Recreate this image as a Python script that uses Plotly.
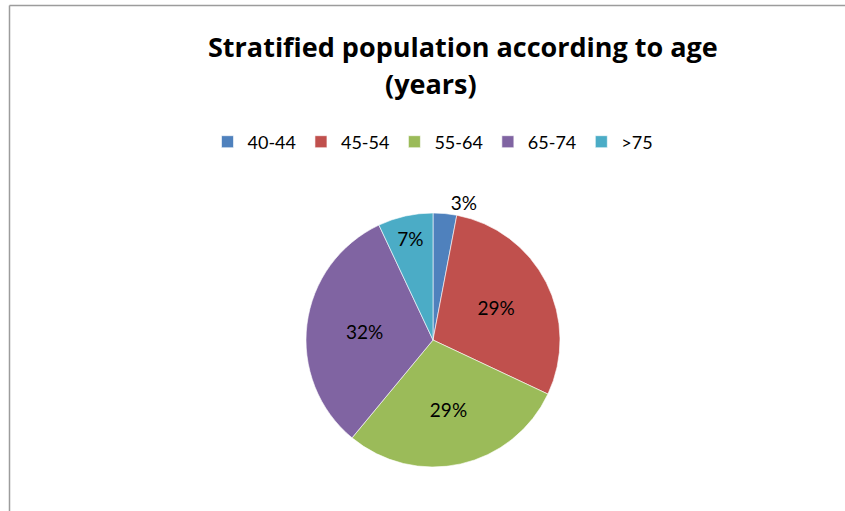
import plotly.graph_objects as go

W, H = 845, 511

categories = ["40-44", "45-54", "55-64", "65-74", ">75"]
values = [3, 29, 29, 32, 7]
colors = ["#4F81BD", "#C0504D", "#9BBB59", "#8064A2", "#4BACC6"]
text_positions = ["outside", "inside", "inside", "inside", "inside"]
title_line1 = "Stratified population according to age"
title_line2 = "(years)"

FONT = "Lato"
TITLE_FONT = "Open Sans"

cx, cy, r = 433, 340, 127

def px_x(x):
    return x / W

def px_y(y):
    return (H - y) / H

fig = go.Figure(
    go.Pie(
        labels=categories,
        values=values,
        sort=False,
        direction="clockwise",
        rotation=0,
        marker=dict(colors=colors, line=dict(color="white", width=0.6)),
        texttemplate="%{percent:.0%}",
        textposition=text_positions,
        insidetextorientation="horizontal",
        textfont=dict(family=FONT, size=19, color="black"),
        hoverinfo="label+percent",
        domain=dict(x=[px_x(cx - r), px_x(cx + r)], y=[px_y(cy + r), px_y(cy - r)]),
    )
)

fig.update_layout(
    width=W,
    height=H,
    margin=dict(l=0, r=0, t=0, b=0),
    paper_bgcolor="white",
    plot_bgcolor="white",
    font=dict(family=FONT, color="black"),
    showlegend=True,
    legend=dict(
        orientation="h",
        x=px_x(433),
        xanchor="center",
        y=px_y(142),
        yanchor="middle",
        font=dict(family=FONT, size=18, color="black"),
        bgcolor="rgba(0,0,0,0)",
    ),
    annotations=[
        dict(text="<b>" + title_line1 + "</b>", xref="paper", yref="paper",
             x=px_x(463), y=px_y(46), xanchor="center", yanchor="middle",
             showarrow=False, font=dict(family=TITLE_FONT, size=27, color="black")),
        dict(text="<b>" + title_line2 + "</b>", xref="paper", yref="paper",
             x=px_x(431), y=px_y(83), xanchor="center", yanchor="middle",
             showarrow=False, font=dict(family=TITLE_FONT, size=27, color="black")),
    ],
    shapes=[
        dict(type="line", xref="paper", yref="paper",
             x0=px_x(9.5), x1=1.0, y0=px_y(5.5), y1=px_y(5.5),
             line=dict(color="#9c9c9c", width=1.5)),
        dict(type="line", xref="paper", yref="paper",
             x0=px_x(9.5), x1=px_x(9.5), y0=px_y(5.5), y1=0.0,
             line=dict(color="#9c9c9c", width=1.5)),
    ],
)

fig.write_html(
    "out.html",
    config={"displayModeBar": False},
    post_script="document.documentElement.style.margin='0';document.body.style.margin='0';document.body.style.overflow='hidden';",
)
